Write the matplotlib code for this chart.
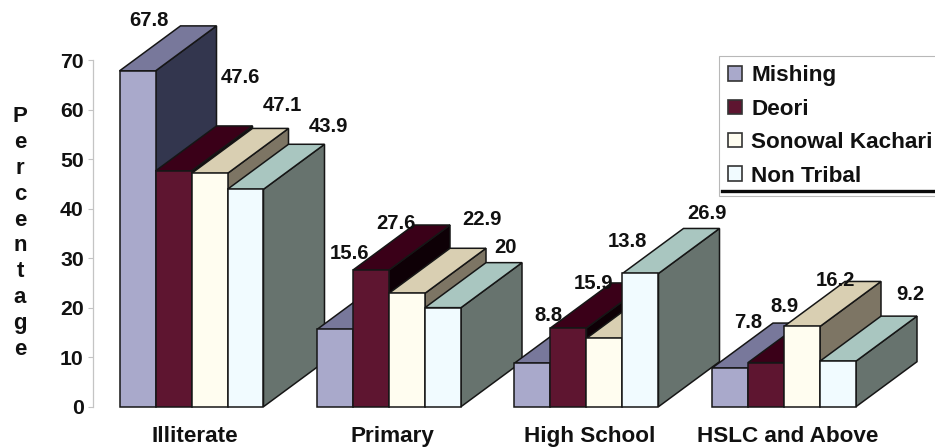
import matplotlib
matplotlib.use("Agg")
import matplotlib.pyplot as plt
from matplotlib.patches import Polygon, Patch
from matplotlib.lines import Line2D

plt.rcParams['font.family'] = ['Liberation Sans', 'DejaVu Sans']
plt.rcParams['font.weight'] = 'bold'

categories = ["Illiterate", "Primary", "High School", "HSLC and Above"]
series_names = ["Mishing", "Deori", "Sonowal Kachari", "Non Tribal"]
mishing = [67.8, 15.6, 8.8, 7.8]
deori = [47.6, 27.6, 15.9, 8.9]
sonowal = [47.1, 22.9, 13.8, 16.2]
non_tribal = [43.9, 20, 26.9, 9.2]
series_values = [mishing, deori, sonowal, non_tribal]
y_ticks = [0, 10, 20, 30, 40, 50, 60, 70]

# face colours per series: front, top, side
front_colors = ["#a9a9cb", "#5e1530", "#fffdf0", "#f1fbff"]
top_colors = ["#78789b", "#3a0018", "#d9cfb2", "#a9c6c0"]
side_colors = ["#33364e", "#0e0006", "#7d7564", "#67736e"]
edge = "#161616"

# value label placement, in pixels from each bar's front top-left corner
label_offsets = [
    [(29.5, 50), (33, 75.5), (33.5, 48), (36, 46)],
    [(84.5, 93), (43, 47), (43.5, 44), (36, 56.6)],
    [(90.5, 67.5), (93, 74), (40.5, 97), (51, 45.5)],
    [(100.5, 62.4), (81, 59.7), (84.5, 59.5), (90, 67)],
]

W, H = 935, 448
fig = plt.figure(figsize=(W / 100, H / 100), dpi=100, facecolor="white")
ax_left, ax_bottom, ax_top = 92.7, 406.7, 60.0
ax = fig.add_axes([ax_left / W, (H - ax_bottom) / H,
                   (W - ax_left) / W, (ax_bottom - ax_top) / H])

bar_px = 36.0
group_step = 197.5 / bar_px
first_bar = (119.5 - ax_left) / bar_px
depth_x = 61.0 / bar_px
depth_y = 45.0 / ((ax_bottom - ax_top) / 70)

ax.set_xlim(0, (W - ax_left) / bar_px)
ax.set_ylim(0, 70)

# oblique boxes, painted left to right so nearer neighbours overlap correctly
for g in range(len(categories)):
    for s, values in enumerate(series_values):
        v = values[g]
        x0 = first_bar + g * group_step + s
        x1 = x0 + 1
        faces = [
            ([(x1, 0), (x1 + depth_x, depth_y), (x1 + depth_x, v + depth_y), (x1, v)], side_colors[s]),
            ([(x0, v), (x1, v), (x1 + depth_x, v + depth_y), (x0 + depth_x, v + depth_y)], top_colors[s]),
            ([(x0, 0), (x1, 0), (x1, v), (x0, v)], front_colors[s]),
        ]
        for pts, color in faces:
            ax.add_patch(Polygon(pts, closed=True, facecolor=color, edgecolor=edge,
                                 linewidth=1.1, joinstyle="miter", clip_on=False,
                                 zorder=2 + g + s * 0.1))

for s, values in enumerate(series_values):
    for g, v in enumerate(values):
        x0 = first_bar + g * group_step + s
        ax.annotate(str(v), xy=(x0, v), xytext=label_offsets[s][g],
                    textcoords="offset pixels", ha="center", va="center",
                    fontsize=14.6, fontweight="bold", color="#111111",
                    annotation_clip=False, zorder=10)

for name in ["top", "right", "bottom"]:
    ax.spines[name].set_visible(False)
ax.spines["left"].set_color("#c4c4c4")
ax.spines["left"].set_linewidth(0.9)
ax.patch.set_visible(False)

ax.set_yticks(y_ticks)
ax.tick_params(axis="y", length=3.4, width=0.8, color="#c4c4c4", pad=3,
               labelsize=15.3, labelcolor="#111111")
label_shift = 2.1
ax.set_xticks([first_bar + g * group_step + label_shift for g in range(len(categories))])
ax.set_xticklabels(categories)
ax.tick_params(axis="x", length=0, pad=14, labelsize=16.2, labelcolor="#111111")
for lab in ax.get_xticklabels() + ax.get_yticklabels():
    lab.set_fontweight("bold")

fig.text(20 / W, 1 - 233 / H, "\n".join("Percentage"), ha="center", va="center",
         fontsize=16, fontweight="bold", color="#111111", linespacing=1.3,
         multialignment="center")

handles = [Patch(facecolor=front_colors[i], edgecolor="#333333", linewidth=1.2)
           for i in range(4)]
leg = fig.legend(handles, series_names, loc="upper left",
                 bbox_to_anchor=(719 / W, 1 - 56 / H), bbox_transform=fig.transFigure,
                 prop={"size": 16.2, "weight": "bold"}, labelcolor="#111111",
                 handlelength=0.6, handleheight=0.6, handletextpad=0.42,
                 labelspacing=0.55, borderpad=0.42, borderaxespad=0,
                 fancybox=False, framealpha=1, facecolor="white", edgecolor="#b8b8b8")
leg.get_frame().set_linewidth(0.8)
leg.set_zorder(20)
fig.add_artist(Line2D([722 / W, 1], [1 - 190.5 / H] * 2, color="#0a0a0a", linewidth=2.4,
                      transform=fig.transFigure, zorder=30))

fig.savefig("out.png", dpi=100, facecolor="white")
